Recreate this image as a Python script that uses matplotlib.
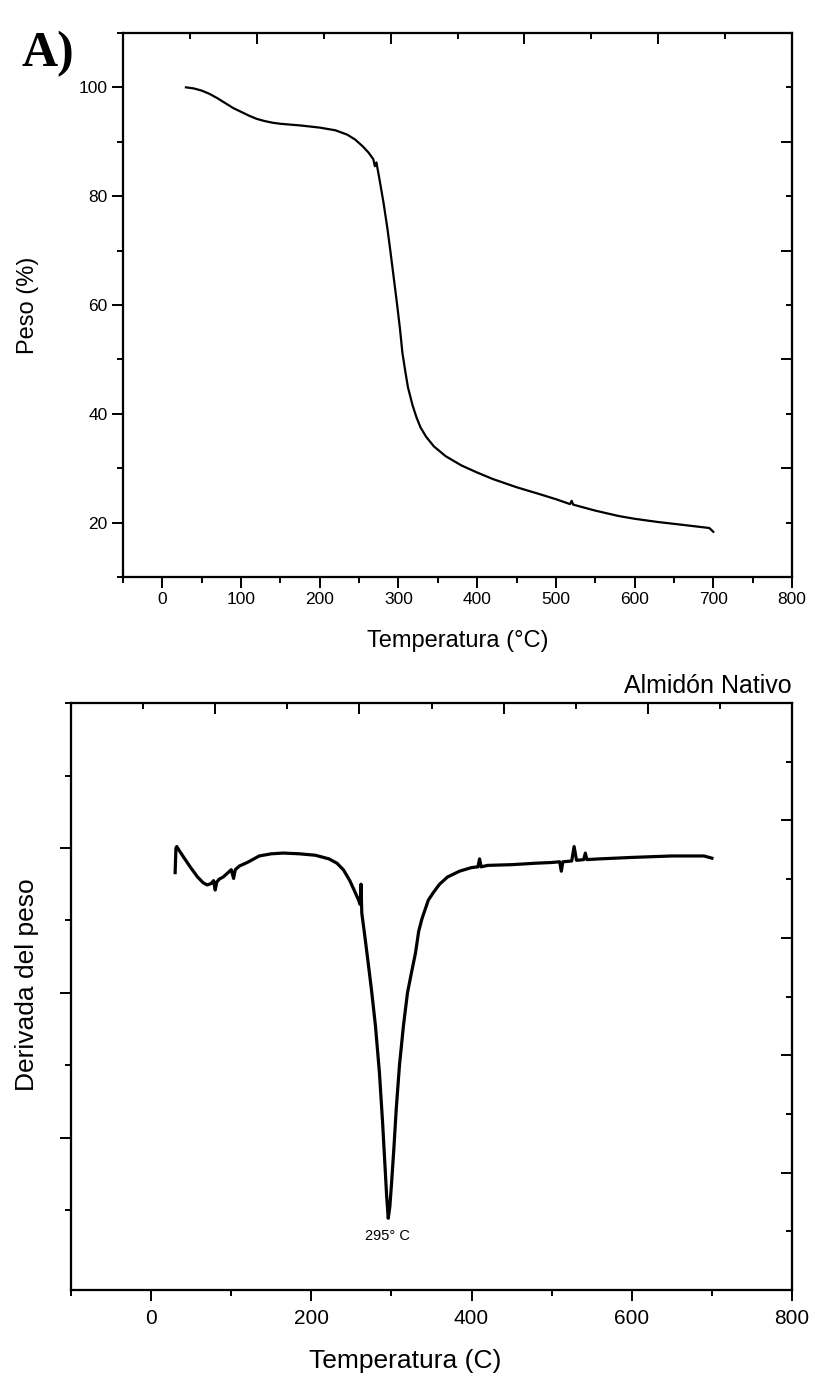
import matplotlib
matplotlib.use("Agg")
import matplotlib.pyplot as plt
import numpy as np

# TGA curve (top panel)
tg_temp = [30, 40, 50, 60, 70, 80, 90, 100, 110, 120, 130, 140, 150, 175, 200,
           220, 235, 245, 255, 262, 268, 270, 272, 276, 281, 286, 290, 294, 298,
           302, 305, 309, 312, 318, 323, 328, 335, 345, 360, 380, 400, 420, 450,
           480, 500, 518, 520, 522, 550, 580, 600, 630, 660, 695, 700]
tg_weight = [100, 99.8, 99.4, 98.8, 98.0, 97.1, 96.2, 95.5, 94.8, 94.2, 93.8,
             93.5, 93.3, 93.0, 92.6, 92.1, 91.3, 90.4, 89.1, 88.0, 86.8, 85.5,
             86.2, 83.0, 78.8, 74.0, 69.6, 65.0, 60.4, 55.5, 51.2, 47.5, 44.9,
             41.5, 39.3, 37.5, 35.8, 34.0, 32.2, 30.5, 29.2, 28.0, 26.5, 25.2,
             24.3, 23.4, 24.0, 23.3, 22.2, 21.2, 20.7, 20.1, 19.6, 19.0, 18.3]

# DTG curve (bottom panel)
dtg_temp = [30, 31, 32, 36, 42, 50, 58, 65, 70, 75, 78, 80, 82, 85, 90, 100,
            103, 105, 110, 120, 135, 150, 165, 185, 205, 222, 232, 240, 248,
            255, 259, 261, 262, 263, 266, 270, 275, 280, 285, 289, 292, 294,
            296, 298, 300, 303, 306, 310, 315, 320, 325, 330, 334, 338, 342,
            346, 352, 360, 370, 385, 400, 408, 410, 412, 420, 450, 480, 500,
            510, 512, 514, 525, 528, 531, 540, 542, 544, 560, 600, 650, 690, 700]
dtg_value = [-0.034, 0.0, 0.002, -0.005, -0.015, -0.028, -0.040, -0.048, -0.051,
             -0.049, -0.045, -0.058, -0.047, -0.043, -0.040, -0.030, -0.042,
             -0.030, -0.025, -0.020, -0.011, -0.008, -0.007, -0.008, -0.010,
             -0.015, -0.021, -0.030, -0.045, -0.062, -0.072, -0.078, -0.050,
             -0.090, -0.115, -0.150, -0.195, -0.245, -0.310, -0.380, -0.440,
             -0.480, -0.511, -0.495, -0.465, -0.415, -0.360, -0.300, -0.245,
             -0.200, -0.172, -0.145, -0.115, -0.098, -0.085, -0.072, -0.062,
             -0.050, -0.040, -0.032, -0.027, -0.026, -0.015, -0.026, -0.024,
             -0.023, -0.021, -0.020, -0.019, -0.032, -0.019, -0.018, 0.002,
             -0.017, -0.016, -0.007, -0.016, -0.015, -0.013, -0.011, -0.011,
             -0.014]

peak_temp = 295
peak_label = "295° C"

FONT = ["Liberation Sans Narrow", "Liberation Sans", "DejaVu Sans"]
plt.rcParams["font.family"] = FONT
plt.rcParams["axes.linewidth"] = 1.5


def frame_ticks(ax, major_len=8, minor_len=4.5):
    # Origin-style opposite axes: 10 evenly spaced inward ticks, no labels
    ax.tick_params(which="both", direction="out", width=1.4,
                   top=False, right=False)
    ax.tick_params(which="major", length=major_len)
    ax.tick_params(which="minor", length=minor_len)
    tx = ax.twiny()
    ty = ax.twinx()
    tx.set_xlim(0, 1)
    ty.set_ylim(0, 1)
    for twin, axis in ((tx, tx.xaxis), (ty, ty.yaxis)):
        axis.set_ticks([0.2, 0.4, 0.6, 0.8])
        axis.set_ticks([0.1, 0.3, 0.5, 0.7, 0.9], minor=True)
        axis.set_ticklabels([])
        twin.tick_params(which="both", direction="in", width=1.4)
        twin.tick_params(which="major", length=major_len)
        twin.tick_params(which="minor", length=minor_len)
    tx.tick_params(which="both", bottom=False)
    ty.tick_params(which="both", left=False)


fig = plt.figure(figsize=(8.15, 13.84), dpi=100)

# ---- top panel: weight loss
ax1 = fig.add_axes([0.1509, 0.5831, 0.8209, 0.3931])
ax1.plot(tg_temp, tg_weight, color="black", linewidth=1.6)
ax1.set_xlim(-50, 800)
ax1.set_ylim(10, 110)
ax1.set_xticks(np.arange(0, 801, 100))
ax1.set_xticks(np.arange(-50, 801, 100), minor=True)
ax1.set_yticks([20, 40, 60, 80, 100])
ax1.set_yticks([10, 30, 50, 70, 90, 110], minor=True)
ax1.tick_params(labelsize=12.5, pad=3)
ax1.set_xlabel("Temperatura (°C)", fontsize=17)
ax1.set_ylabel("Peso (%)", fontsize=17)
ax1.xaxis.set_label_coords(0.5, -0.097)
ax1.yaxis.set_label_coords(-0.125, 0.5)
frame_ticks(ax1)

fig.text(0.026, 0.961, "A)", fontsize=36, fontweight="bold",
         family=["Liberation Serif", "DejaVu Serif"], va="center", ha="left")

# ---- bottom panel: derivative
ax2 = fig.add_axes([0.0871, 0.0679, 0.8847, 0.4241])
ax2.plot(dtg_temp, dtg_value, color="black", linewidth=2.3)
ax2.set_xlim(-100, 800)
ax2.set_ylim(-0.61, 0.2)
ax2.set_xticks(np.arange(0, 801, 200))
ax2.set_xticks(np.arange(-100, 801, 200), minor=True)
ax2.set_yticks([0, -0.2, -0.4])
ax2.set_yticks([0.2, 0.1, -0.1, -0.3, -0.5], minor=True)
ax2.set_yticklabels([])
ax2.tick_params(axis="x", labelsize=15, pad=6)
ax2.set_xlabel("Temperatura (C)", fontsize=19)
ax2.set_ylabel("Derivada del peso", fontsize=19)
ax2.xaxis.set_label_coords(0.463, -0.1)
ax2.yaxis.set_label_coords(-0.044, 0.52)
ax2.text(peak_temp, -0.536, peak_label, fontsize=10.5, ha="center",
         va="center", family=["Liberation Sans", "DejaVu Sans"])
ax2.set_title("Almidón Nativo", loc="right", fontsize=18, pad=7)
frame_ticks(ax2)

fig.savefig("out.png", dpi=100, facecolor="white")
